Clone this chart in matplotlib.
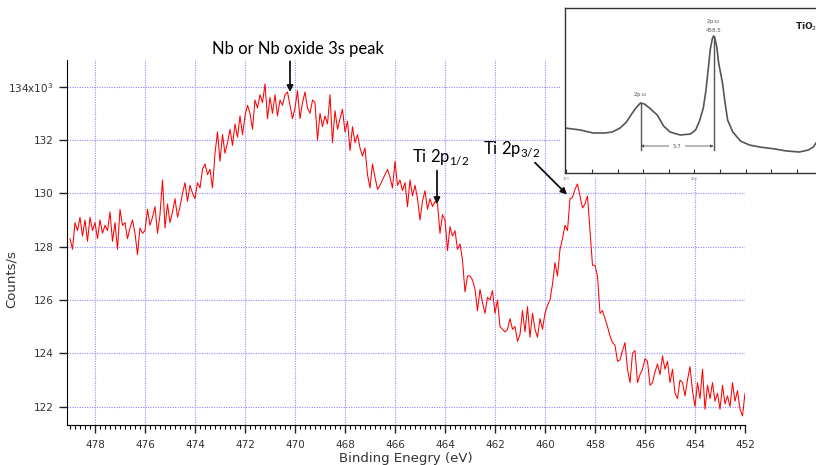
import matplotlib
matplotlib.use("Agg")
import matplotlib.pyplot as plt
import numpy as np
from matplotlib.patches import Rectangle
from matplotlib.ticker import MultipleLocator, FuncFormatter

# spectrum, 0.1 eV steps from 479.0 down to 452.0 eV (kcounts/s)
counts = [
    128.3, 127.9, 128.9, 128.6, 129.1, 128.4, 129.0, 128.2, 129.1, 128.6,
    128.9, 128.3, 129.0, 128.5, 128.8, 128.6, 129.3, 128.2, 128.9, 127.9,
    129.4, 128.8, 128.9, 128.3, 128.7, 129.0, 128.5, 127.7, 128.7, 128.5,
    128.6, 129.4, 128.8, 129.1, 129.5, 128.5, 129.2, 130.5, 128.7, 129.6,
    128.9, 129.3, 129.8, 129.1, 129.5, 130.0, 130.4, 129.7, 130.3, 130.0,
    129.8, 130.4, 130.2, 130.9, 131.1, 130.7, 130.9, 130.2, 131.5, 132.3,
    131.2, 132.2, 131.5, 131.9, 132.4, 131.8, 132.6, 132.1, 132.9, 132.2,
    132.9, 133.3, 133.0, 132.4, 133.5, 133.2, 133.7, 133.4, 134.1, 132.8,
    133.6, 133.0, 133.7, 132.9, 133.5, 133.3, 133.7, 133.8, 133.3, 132.8,
    133.2, 133.85, 132.8, 133.4, 133.8, 133.2, 133.0, 133.5, 133.4, 132.0,
    133.0, 132.5, 132.9, 132.6, 133.7, 131.9, 133.1, 132.4, 132.8, 133.15,
    132.3, 132.7, 131.6, 132.5, 131.9, 132.2, 131.7, 131.4, 131.7, 130.7,
    130.2, 131.1, 130.6, 130.15, 130.3, 130.5, 130.7, 130.9, 130.6, 130.2,
    131.2, 130.3, 130.5, 130.1, 130.4, 129.5, 130.5, 129.9, 130.3, 129.8,
    129.0, 129.7, 130.1, 129.4, 129.8, 129.5, 129.7, 129.6, 128.5, 129.2,
    129.0, 127.85, 128.75, 128.4, 128.6, 127.9, 128.1, 127.5, 126.3, 126.9,
    126.9, 126.75, 126.4, 125.6, 126.4, 125.9, 125.5, 126.1, 126.0, 126.35,
    125.5, 126.0, 125.0, 124.9, 124.8, 124.9, 125.3, 124.9, 125.0, 124.45,
    124.7, 125.6, 124.8, 125.75, 124.6, 125.5, 124.9, 124.6, 125.3, 124.9,
    125.5, 125.8, 126.0, 126.6, 127.4, 126.9, 127.9, 128.3, 128.8, 128.6,
    129.8, 129.85, 130.15, 130.35, 129.9, 129.45, 129.6, 129.9, 128.6, 127.3,
    127.3, 126.9, 125.5, 125.6, 125.3, 125.0, 124.65, 124.4, 124.3, 123.7,
    123.75, 124.1, 124.4, 123.4, 122.9, 124.0, 124.1, 122.9, 123.2, 123.4,
    123.8, 123.7, 122.8, 122.9, 123.3, 123.6, 123.2, 123.9, 123.4, 123.7,
    122.9, 123.4, 122.5, 122.3, 123.0, 122.9, 122.4, 123.0, 123.5, 122.6,
    122.0, 122.9, 122.3, 123.4, 121.9, 122.8, 122.3, 122.9, 122.2, 122.5,
    121.9, 122.8, 122.1, 122.4, 122.0, 122.9, 122.2, 122.6, 121.9, 121.65,
    122.5,
]
energy = np.linspace(479.0, 452.0, len(counts))

# reference TiO2 spectrum in the inset (arbitrary units)
ref_energy = [470.1, 468.9, 467.9, 467.0, 466.4, 465.8, 465.3, 464.9, 464.5, 464.2,
              463.9, 463.5, 462.9, 462.4, 461.9, 461.1, 460.3, 459.9, 459.6, 459.3,
              459.1, 458.9, 458.75, 458.6, 458.5, 458.4, 458.25, 458.1, 457.8, 457.6,
              457.4, 457.0, 456.4, 455.7, 454.9, 453.7, 452.8, 451.8, 451.1, 450.7,
              450.5]
ref_counts = [45, 43, 40, 40, 41, 45, 51, 59, 66, 70,
              69, 65, 58, 47, 41, 38, 39, 43, 52, 65,
              82, 106, 124, 134, 137, 135, 126, 110, 90, 70,
              53, 41, 32, 28, 26, 24, 22, 21, 23, 26,
              30]

yticks = [122, 124, 126, 128, 130, 132, 134]

fig = plt.figure(figsize=(8.16, 4.65), dpi=100)
ax = fig.add_axes([67 / 816, 40 / 465, 678 / 816, 365 / 465])

ax.plot(energy, counts, color="#ff0000", lw=0.75)

ax.set_xlim(479.12, 452.0)
ax.set_ylim(121.31, 135.0)
ax.xaxis.set_major_locator(MultipleLocator(2))
ax.xaxis.set_minor_locator(MultipleLocator(0.2))
ax.set_yticks(yticks)
ax.yaxis.set_major_formatter(FuncFormatter(
    lambda v, p: "134x10$^3$" if round(v) == 134 else "%d" % round(v)))
ax.tick_params(axis="both", which="major", direction="out", length=6, width=1,
               labelsize=7.5, colors="#222222", labelcolor="#333333")
ax.tick_params(axis="x", which="minor", direction="out", length=3, width=0.8)
ax.tick_params(axis="x", pad=5)
ax.grid(True, which="major", color="#8c8cff", linestyle=(0, (1, 1.2)), lw=0.8)
for s in ["top", "right"]:
    ax.spines[s].set_visible(False)
ax.set_xlabel("Binding Enegry (eV)", fontsize=9.5, color="#333333", labelpad=1)
ax.set_ylabel("Counts/s", fontsize=9.5, color="#333333")
ax.yaxis.set_label_coords(-0.072, 0.40)

# annotations
lab = dict(fontsize=12, family="Lato", color="black")
arr = dict(arrowstyle="-|>", color="#111111", lw=1.3, mutation_scale=9,
           shrinkA=0, shrinkB=0)
ax.text(469.9, 135.4, "Nb or Nb oxide 3s peak", ha="center", va="center",
        clip_on=False, **lab)
ax.annotate("", xy=(470.2, 133.8), xytext=(470.2, 134.95), arrowprops=arr,
            annotation_clip=False)
ax.text(465.3, 131.35, "Ti 2p$_{\\mathregular{1/2}}$", ha="left", va="center", **lab)
ax.annotate("", xy=(464.32, 129.6), xytext=(464.32, 130.85), arrowprops=arr)
ax.text(462.48, 131.65, "Ti 2p$_{\\mathregular{3/2}}$", ha="left", va="center", **lab)
ax.annotate("", xy=(459.12, 129.95), xytext=(460.4, 131.15), arrowprops=arr)

# white backing for the inset picture
fig.add_artist(Rectangle((561 / 816, 287 / 465), 255 / 816, 178 / 465,
                         transform=fig.transFigure, facecolor="white",
                         edgecolor="none", zorder=1))

ins = fig.add_axes([565 / 816, 292 / 465, 251 / 816, 165 / 465], zorder=2)
ins.plot(ref_energy, ref_counts, color="#555555", lw=1.2)
ins.set_xlim(470.1, 450.5)
ins.set_ylim(0, 165)
ins.set_xticks(np.arange(470, 450, -2))
ins.set_xticklabels([])
ins.set_yticks([])
ins.tick_params(axis="x", direction="in", length=3, width=0.8, colors="#333333")
ins.spines["right"].set_visible(False)
for s in ["left", "top", "bottom"]:
    ins.spines[s].set_color("#333333")
    ins.spines[s].set_linewidth(1.0)
ins.text(470.0, -4, "470", fontsize=2.5, color="#888888", ha="center", va="top",
         clip_on=False)
ins.text(460.0, -4, "460", fontsize=2.5, color="#888888", ha="center", va="top",
         clip_on=False)

ins.plot([464.2, 464.2], [23, 70], color="#555555", lw=1.0)
ins.plot([458.5, 458.5], [23, 137], color="#555555", lw=1.0)
ins.annotate("", xy=(464.2, 27), xytext=(462.0, 27),
             arrowprops=dict(arrowstyle="-|>", color="#555555", lw=0.6,
                             mutation_scale=4, shrinkA=0, shrinkB=0))
ins.annotate("", xy=(458.5, 27), xytext=(460.7, 27),
             arrowprops=dict(arrowstyle="-|>", color="#555555", lw=0.6,
                             mutation_scale=4, shrinkA=0, shrinkB=0))
ins.text(461.35, 27, "5.7", fontsize=4, color="#555555", ha="center", va="center")
ins.text(464.2, 74, "2p$_{1/2}$", fontsize=4, color="#555555", ha="center", va="bottom")
ins.text(458.5, 147, "2p$_{3/2}$", fontsize=4, color="#555555", ha="center", va="bottom")
ins.text(458.5, 140, "458.5", fontsize=4, color="#555555", ha="center", va="bottom")
ins.text(451.3, 146, "TiO$_2$", fontsize=6.5, fontweight="bold", color="#222222",
         ha="center", va="center")

fig.savefig("out.png", dpi=100)
